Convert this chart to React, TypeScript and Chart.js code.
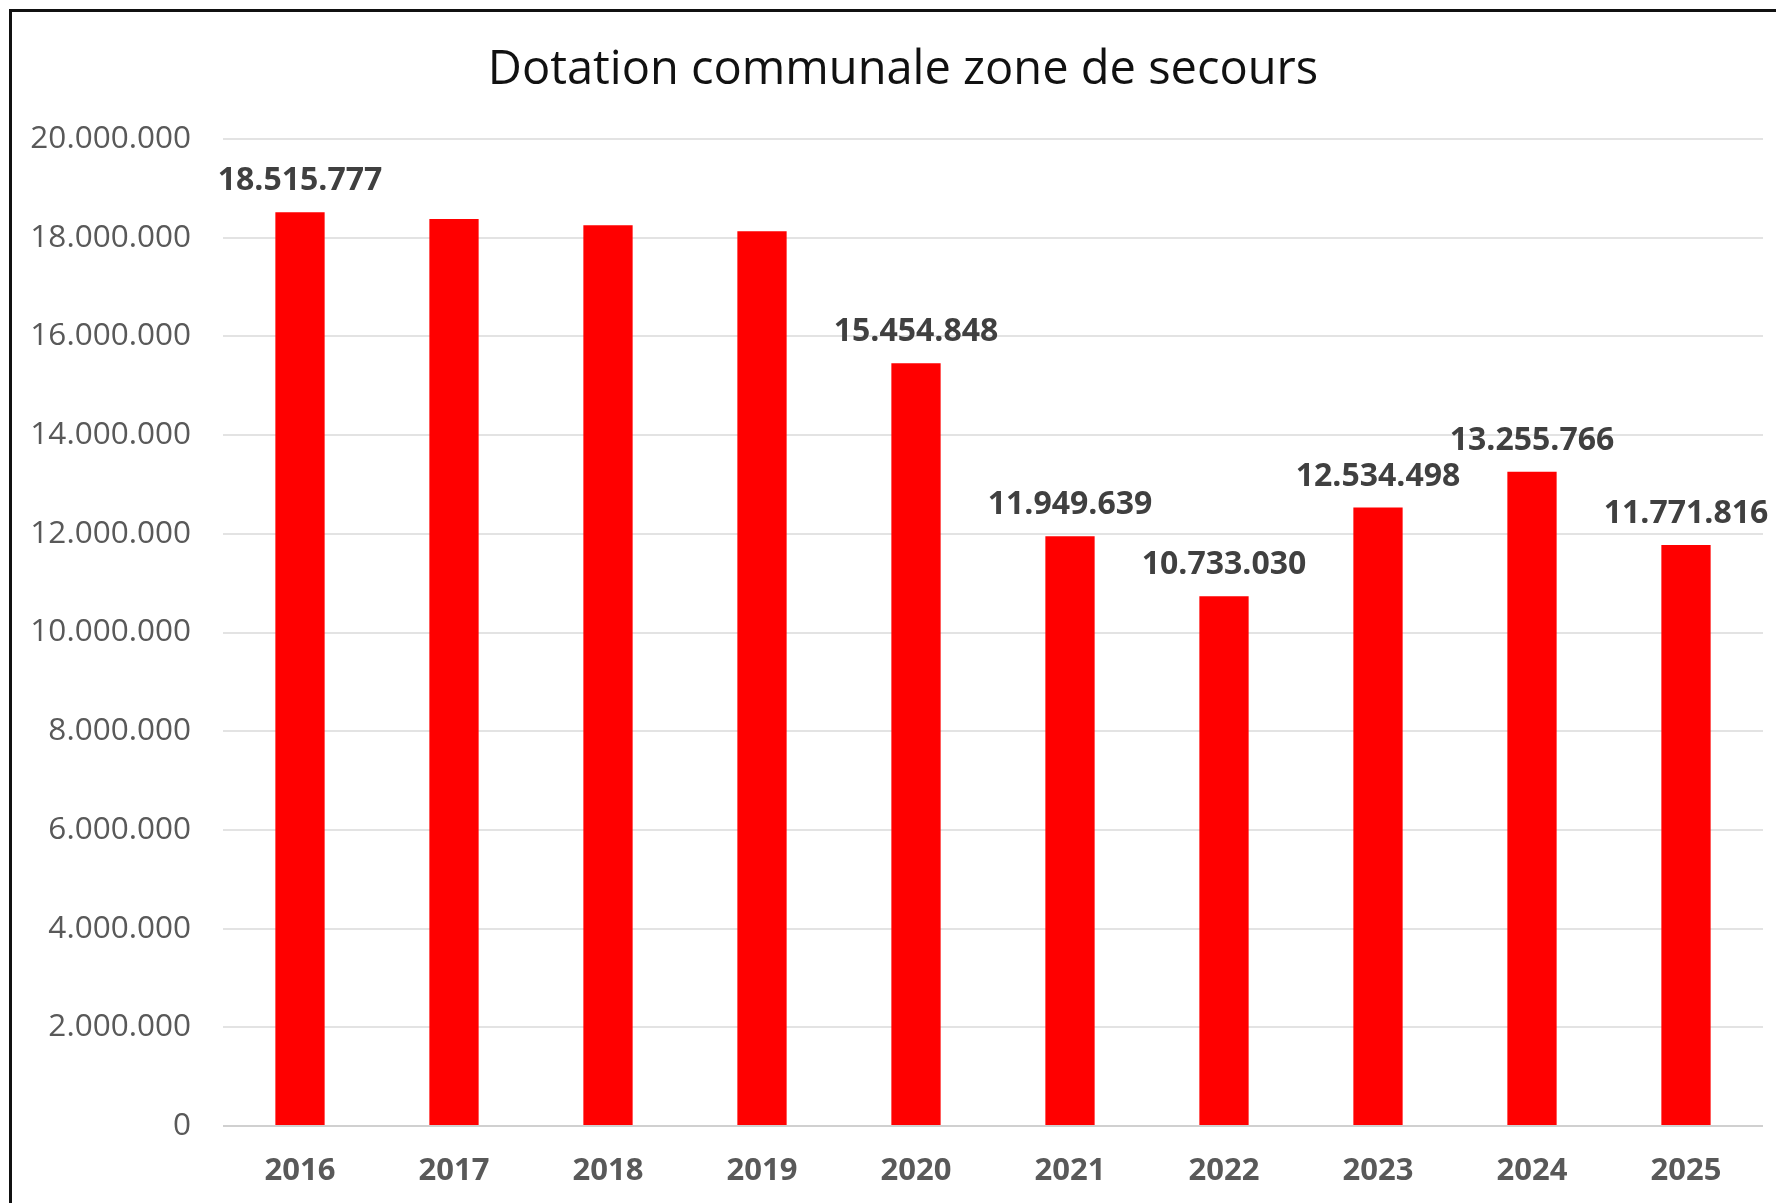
import React, { useEffect, useRef } from "react";
import { Chart, registerables } from "chart.js";

Chart.register(...registerables);

const TITLE = "Dotation communale zone de secours";
const YEARS = ["2016", "2017", "2018", "2019", "2020", "2021", "2022", "2023", "2024", "2025"];
const VALUES = [18515777, 18380000, 18250000, 18130000, 15454848, 11949639, 10733030, 12534498, 13255766, 11771816];
const SHOW_LABEL = [true, false, false, false, true, true, true, true, true, true];
const Y_MIN = 0;
const Y_MAX = 20000000;
const Y_STEP = 2000000;

const fmt = (n: number) => Math.round(n).toString().replace(/\B(?=(\d{3})+(?!\d))/g, ".");

const FONT = "'Open Sans', 'Noto Sans', sans-serif";

export default function App() {
  const ref = useRef<HTMLCanvasElement | null>(null);

  useEffect(() => {
    if (!ref.current) return;
    const titlePlugin = {
      id: "customTitle",
      afterDraw(chart: any) {
        const ctx = chart.ctx;
        ctx.save();
        ctx.font = `47px ${FONT}`;
        ctx.fillStyle = "#111111";
        ctx.textAlign = "center";
        ctx.textBaseline = "middle";
        ctx.fillText(TITLE, 903, 71);
        ctx.restore();
      },
    };
    const labelPlugin = {
      id: "valueLabels",
      afterDatasetsDraw(chart: any) {
        const ctx = chart.ctx;
        const meta = chart.getDatasetMeta(0);
        ctx.save();
        ctx.font = `bold 32px ${FONT}`;
        ctx.fillStyle = "#404040";
        ctx.textAlign = "center";
        ctx.textBaseline = "middle";
        meta.data.forEach((el: any, i: number) => {
          if (!SHOW_LABEL[i]) return;
          ctx.fillText(fmt(VALUES[i]), el.x, el.y - 31);
        });
        ctx.restore();
      },
    };
    const chart = new Chart(ref.current, {
      type: "bar",
      data: {
        labels: YEARS,
        datasets: [
          {
            data: VALUES,
            backgroundColor: "#ff0000",
            borderWidth: 0,
            barPercentage: 0.32,
            categoryPercentage: 1,
          },
        ],
      },
      options: {
        responsive: false,
        animation: false,
        devicePixelRatio: 1,
        layout: { padding: { top: 139, left: 0, right: 13, bottom: 0 } },
        plugins: {
          legend: { display: false },
          title: { display: false },
          tooltip: { enabled: false },
        },
        scales: {
          x: {
            grid: { display: false, drawTicks: false },
            border: { display: false },
            ticks: {
              color: "#595959",
              font: { family: FONT, size: 31, weight: "bold" },
              padding: 27,
              maxRotation: 0,
            },
            afterFit(scale: any) {
              scale.height = 77;
            },
          },
          y: {
            min: Y_MIN,
            max: Y_MAX,
            grid: {
              drawTicks: false,
              lineWidth: 2,
              color: (c: any) => (c.index === 0 ? "#d0d0d0" : "#e3e3e3"),
            },
            border: { display: false },
            ticks: {
              stepSize: Y_STEP,
              color: "#595959",
              font: { family: FONT, size: 31.5 },
              padding: 32,
              callback: (v: any) => fmt(Number(v)),
            },
            afterFit(scale: any) {
              scale.width = 223;
            },
          },
        },
      },
      plugins: [titlePlugin, labelPlugin],
    });
    return () => chart.destroy();
  }, []);

  return (
    <div
      style={{
        position: "absolute",
        left: 0,
        top: 0,
        width: 1776,
        height: 1203,
        overflow: "hidden",
        background: "#ffffff",
      }}
    >
      <div
        style={{
          position: "absolute",
          left: 9,
          top: 9,
          width: 2000,
          height: 2000,
          border: "3px solid #111111",
        }}
      />
      <canvas
        ref={ref}
        width={1776}
        height={1203}
        style={{ position: "absolute", left: 0, top: 0, width: 1776, height: 1203 }}
      />
    </div>
  );
}
